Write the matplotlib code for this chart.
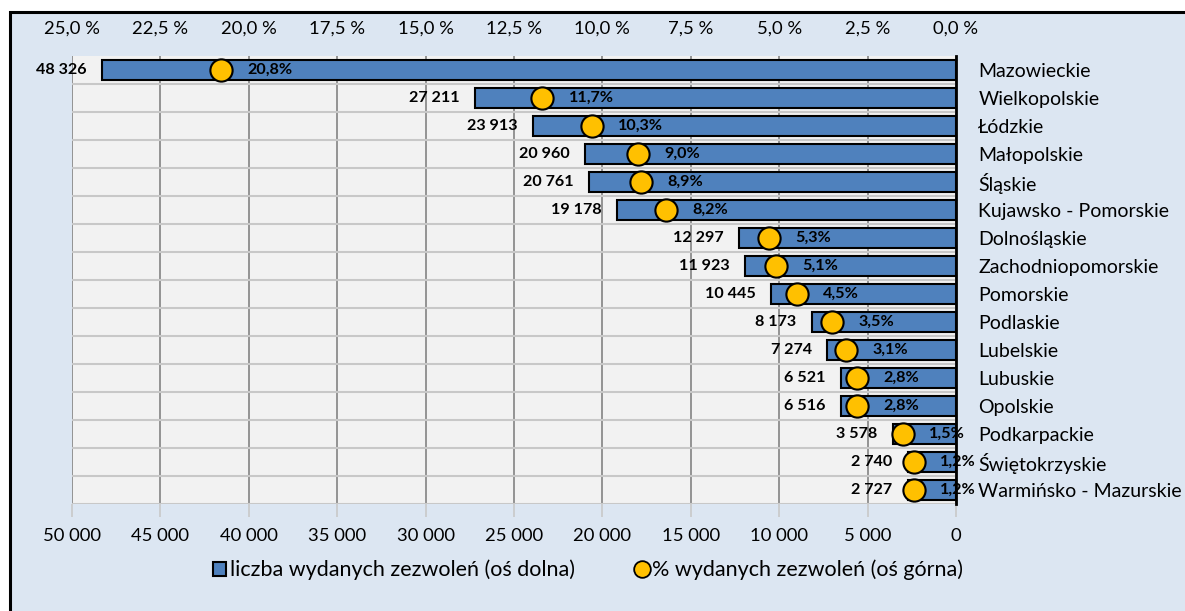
import matplotlib
matplotlib.use('Agg')
import matplotlib.pyplot as plt
from matplotlib.patches import Rectangle
from matplotlib.lines import Line2D
import numpy as np

plt.rcParams['font.family'] = ['Lato', 'DejaVu Sans']

# dane: województwa, liczba wydanych zezwoleń i udział procentowy
wojewodztwa = ['Mazowieckie', 'Wielkopolskie', 'Łódzkie', 'Małopolskie', 'Śląskie',
               'Kujawsko - Pomorskie', 'Dolnośląskie', 'Zachodniopomorskie', 'Pomorskie',
               'Podlaskie', 'Lubelskie', 'Lubuskie', 'Opolskie', 'Podkarpackie',
               'Świętokrzyskie', 'Warmińsko - Mazurskie']
liczba = [48326, 27211, 23913, 20960, 20761, 19178, 12297, 11923, 10445,
          8173, 7274, 6521, 6516, 3578, 2740, 2727]
procent = [20.8, 11.7, 10.3, 9.0, 8.9, 8.2, 5.3, 5.1, 4.5,
           3.5, 3.1, 2.8, 2.8, 1.5, 1.2, 1.2]

bottom_ticks = [50000, 45000, 40000, 35000, 30000, 25000, 20000, 15000, 10000, 5000, 0]
top_ticks = [25.0, 22.5, 20.0, 17.5, 15.0, 12.5, 10.0, 7.5, 5.0, 2.5, 0.0]

niebieski = '#4f81bd'
zolty = '#ffc000'
tlo = '#dce6f2'
fs_tick = 13.3
fs_kat = 14
fs_leg = 15.5
fs_b = 11.6


def tys(v):
    return f'{v:,}'.replace(',', ' ')


fig = plt.figure(figsize=(11.85, 6.11), dpi=100)
fig.patch.set_facecolor('white')
# ramka wykresu
ramka = Rectangle((10/1185, -0.01), 1.1, 1 - 12/611 + 0.01, transform=fig.transFigure,
                  facecolor=tlo, edgecolor='black', linewidth=2.2, zorder=-10)
fig.add_artist(ramka)

ax = fig.add_axes([72/1185, 1 - 504/611, (956 - 72)/1185, 448/611])
ax.set_facecolor('#f2f2f2')
y = np.arange(len(wojewodztwa))

ax.barh(y, liczba, height=0.7, color=niebieski, edgecolor='black', linewidth=1.5, zorder=3)
ax.set_xlim(50000, 0)
ax.set_ylim(len(wojewodztwa) - 0.5, -0.5)

ax.set_xticks(bottom_ticks)
ax.set_xticklabels([tys(t) for t in bottom_ticks], fontsize=fs_tick)
ax.tick_params(axis='x', length=9, color='#c8c8c8', pad=8, width=1.2)
ax.xaxis.grid(True, color='#8c8c8c', linewidth=1.3, zorder=1)
ax.set_yticks(y)
ax.set_yticklabels(wojewodztwa, fontsize=fs_kat, ha='left')
ax.set_yticks(y + 0.5, minor=True)
ax.yaxis.grid(True, which='minor', color='#c8c8c8', linewidth=1.5, zorder=1)
ax.yaxis.tick_right()
ax.tick_params(axis='y', which='both', length=0, pad=16)
for s in ['top', 'bottom', 'left']:
    ax.spines[s].set_visible(False)
ax.spines['right'].set_linewidth(2)
ax.spines['right'].set_zorder(4)

for yi, v in zip(y, liczba):
    ax.annotate(tys(v), (v, yi), xytext=(-11, 0), textcoords='offset points',
                ha='right', va='center', fontsize=fs_b, fontweight='bold', zorder=6)

ax2 = ax.twiny()
ax2.set_xlim(25, 0)
ax2.plot(procent, y, 'o', markersize=16, markerfacecolor=zolty, markeredgecolor='black',
         markeredgewidth=1.5, zorder=5)
for yi, p in zip(y, procent):
    ax2.annotate(f'{p:.1f}%'.replace('.', ','), (p, yi), xytext=(19, 0), textcoords='offset points',
                 ha='left', va='center', fontsize=fs_b, fontweight='bold', zorder=6)
ax2.set_xticks(top_ticks)
ax2.set_xticklabels([f'{t:.1f} %'.replace('.', ',') for t in top_ticks], fontsize=fs_tick)
ax2.tick_params(axis='x', length=0, pad=14)
for s in ['top', 'bottom', 'left', 'right']:
    ax2.spines[s].set_visible(False)

uchwyty = [Rectangle((0, 0), 1, 1, facecolor=niebieski, edgecolor='black', linewidth=1.5),
           Line2D([], [], marker='o', linestyle='none', markersize=12, markerfacecolor=zolty,
                  markeredgecolor='black', markeredgewidth=1.3)]
fig.legend(uchwyty, ['liczba wydanych zezwoleń (oś dolna)', '% wydanych zezwoleń (oś górna)'],
           loc='center', bbox_to_anchor=(588/1185, 1 - 570/611), ncol=2, frameon=False,
           fontsize=fs_leg, handlelength=0.6, handleheight=0.6, handletextpad=0.2, columnspacing=2.8)

fig.savefig('out.png', dpi=100, facecolor=fig.get_facecolor())
